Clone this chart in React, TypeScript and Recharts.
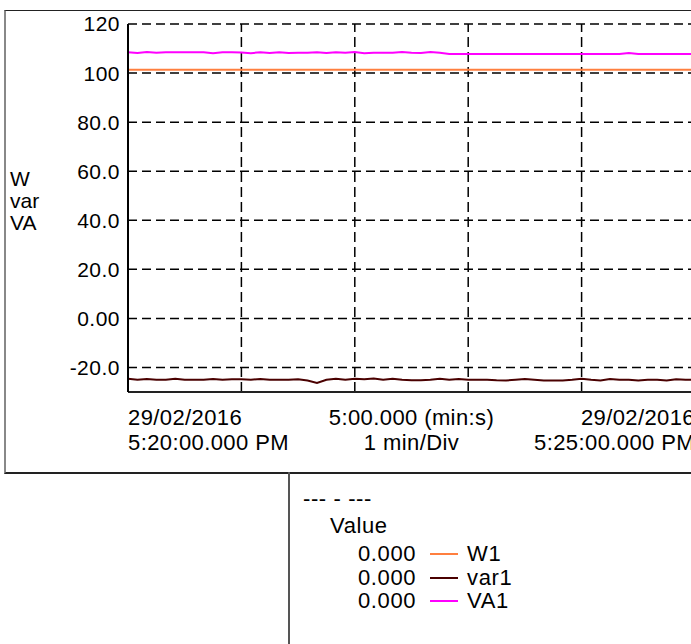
import { LineChart, Line, XAxis, YAxis, CartesianGrid, ReferenceLine } from 'recharts';

// seconds after 5:20:00 PM
const seconds = [
  0, 5, 10, 15, 20, 25, 30, 35, 40, 45,
  50, 55, 60, 65, 70, 75, 80, 85, 90, 95,
  100, 105, 110, 115, 120, 125, 130, 135, 140, 145,
  150, 155, 160, 165, 170, 175, 180, 185, 190, 195,
  200, 205, 210, 215, 220, 225, 230, 235, 240, 245,
  250, 255, 260, 265, 270, 275, 280, 285, 290, 295,
  300,
];

const w1 = [
  101.4, 101.4, 101.4, 101.4, 101.4, 101.4, 101.4, 101.4, 101.4, 101.4,
  101.4, 101.4, 101.4, 101.4, 101.4, 101.4, 101.4, 101.4, 101.4, 101.4,
  101.4, 101.4, 101.4, 101.4, 101.4, 101.4, 101.4, 101.4, 101.4, 101.4,
  101.4, 101.4, 101.4, 101.4, 101.4, 101.4, 101.4, 101.4, 101.4, 101.4,
  101.4, 101.4, 101.4, 101.4, 101.4, 101.4, 101.4, 101.4, 101.4, 101.4,
  101.4, 101.4, 101.4, 101.4, 101.4, 101.4, 101.4, 101.4, 101.4, 101.4,
  101.4,
];

const var1 = [
  -24.6, -25.0, -24.7, -25.0, -25.0, -24.6, -25.0, -25.0, -25.0, -24.7,
  -25.0, -24.8, -24.8, -25.0, -24.7, -25.0, -25.0, -25.0, -24.8, -25.3,
  -26.3, -25.0, -24.6, -25.0, -24.6, -24.8, -24.5, -25.0, -24.6, -25.0,
  -25.2, -25.2, -25.0, -24.6, -25.0, -24.7, -25.0, -25.0, -25.0, -25.2,
  -25.3, -25.0, -24.7, -25.0, -25.3, -25.3, -25.3, -25.0, -24.6, -25.0,
  -25.3, -24.7, -25.0, -25.0, -25.3, -25.0, -25.0, -25.3, -24.8, -25.0,
  -25.0,
];

const va1 = [
  108.5, 108.2, 108.6, 108.3, 108.5, 108.5, 108.5, 108.5, 108.5, 108.1,
  108.5, 108.5, 108.4, 108.1, 108.5, 108.2, 108.5, 108.2, 108.3, 108.3,
  108.5, 108.2, 108.5, 108.3, 108.6, 108.1, 108.3, 108.3, 108.3, 108.6,
  108.3, 108.2, 108.6, 108.3, 107.8, 107.8, 107.8, 107.8, 107.8, 107.8,
  107.8, 107.8, 107.8, 107.8, 107.8, 107.8, 107.8, 107.8, 107.8, 107.8,
  107.8, 107.8, 107.8, 108.2, 107.8, 107.8, 107.8, 107.8, 107.8, 107.8,
  107.8,
];

const yTicks = [-20, 0, 20, 40, 60, 80, 100, 120];
const yTickLabels = ['-20.0', '0.00', '20.0', '40.0', '60.0', '80.0', '100', '120'];
const divLines = [60, 120, 180, 240];
const xLabelTicks = [0, 150, 300];
const xTickLabels = [
  ['29/02/2016', '5:20:00.000 PM'],
  ['5:00.000 (min:s)', '1 min/Div'],
  ['29/02/2016', '5:25:00.000 PM'],
];
const axisTitle = ['W', 'var', 'VA'];

const series = [
  { key: 'W1', color: '#ff7f3f', value: '0.000' },
  { key: 'var1', color: '#4a0000', value: '0.000' },
  { key: 'VA1', color: '#ff00ff', value: '0.000' },
];

const data = seconds.map((s, i) => ({ t: s, W1: w1[i], var1: var1[i], VA1: va1[i] }));

const FONT = '"Liberation Sans", Arial, Helvetica, sans-serif';

function XTick(props: any) {
  const { x, y, payload } = props;
  const idx = xLabelTicks.indexOf(payload.value);
  if (idx < 0) return null;
  const anchor = idx === 0 ? 'start' : idx === 1 ? 'middle' : 'end';
  const lines = xTickLabels[idx];
  return (
    <text x={x} y={y} textAnchor={anchor} fontSize={22} letterSpacing={0.4} fontFamily={FONT} fill="#000">
      <tspan x={x} dy={33}>{lines[0]}</tspan>
      <tspan x={x} dy={25}>{lines[1]}</tspan>
    </text>
  );
}

const legendText = { position: 'absolute' as const, fontSize: 22, letterSpacing: 0.6, lineHeight: '24px', color: '#000' };

export default function App() {
  return (
    <div style={{ position: 'fixed', left: 0, top: 0, width: 691, height: 644, overflow: 'hidden', background: '#fff', fontFamily: FONT }}>
      <div
        style={{
          position: 'absolute', left: 4, top: 10, width: 800, height: 461,
          borderTop: '1px solid #222', borderLeft: '2px solid #888', borderBottom: '2px solid #222',
        }}
      />
      <div style={{ position: 'absolute', left: 288, top: 472, width: 0, height: 200, borderLeft: '2px solid #555' }} />

      <div style={{ position: 'absolute', left: 10, top: 168, fontSize: 21, lineHeight: '22px', color: '#000' }}>
        {axisTitle.map((t) => (
          <div key={t}>{t}</div>
        ))}
      </div>

      <div style={{ position: 'absolute', left: 0, top: 0 }}>
        <LineChart width={720} height={480} data={data} margin={{ top: 24, right: 25, left: 0, bottom: 0 }}>
          <CartesianGrid vertical={false} stroke="#000" strokeWidth={1.5} strokeDasharray="9 5" />
          {divLines.map((v) => (
            <ReferenceLine key={v} x={v} stroke="#000" strokeWidth={1.5} strokeDasharray="10 5" />
          ))}
          <XAxis
            dataKey="t"
            type="number"
            domain={[0, 300]}
            ticks={xLabelTicks}
            tick={<XTick />}
            tickLine={false}
            tickSize={0}
            tickMargin={0}
            height={88}
            axisLine={{ stroke: '#222', strokeWidth: 2 }}
            interval={0}
          />
          <YAxis
            type="number"
            domain={[-30, 120]}
            ticks={yTicks}
            width={128}
            tickLine={false}
            tickSize={0}
            tickMargin={8}
            axisLine={{ stroke: '#000', strokeWidth: 2 }}
            tick={{ fontSize: 21, letterSpacing: 0.5, fontFamily: FONT, fill: '#000' }}
            tickFormatter={(v: number) => yTickLabels[yTicks.indexOf(v)]}
            interval={0}
          />
          {series.map((s) => (
            <Line
              key={s.key}
              type="linear"
              dataKey={s.key}
              stroke={s.color}
              strokeWidth={2}
              dot={false}
              isAnimationActive={false}
            />
          ))}
        </LineChart>
      </div>

      <div style={{ ...legendText, left: 303, top: 487 }}>--- - ---</div>
      <div style={{ ...legendText, left: 330, top: 514 }}>Value</div>
      {series.map((s, i) => (
        <div
          key={s.key}
          style={{ ...legendText, left: 358, top: 542 + i * 23.5, display: 'flex', alignItems: 'center' }}
        >
          <span>{s.value}</span>
          <span style={{ display: 'inline-block', width: 28, height: 2, background: s.color, marginLeft: 14, marginRight: 9 }} />
          <span>{s.key}</span>
        </div>
      ))}
    </div>
  );
}
